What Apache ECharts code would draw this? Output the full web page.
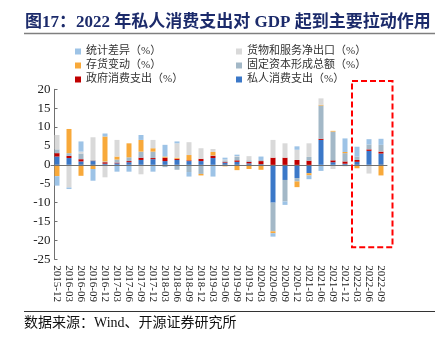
<!DOCTYPE html>
<html><head><meta charset="utf-8">
<script src="https://cdn.jsdelivr.net/npm/echarts@6/dist/echarts.min.js"></script>
<style>html,body{margin:0;padding:0;background:#fff}#c{width:447px;height:340px}</style>
</head><body><div id="c"></div>
<script>
const categories = ['2015-12','2016-03','2016-06','2016-09','2016-12','2017-03','2017-06','2017-09','2017-12','2018-03','2018-06','2018-09','2018-12','2019-03','2019-06','2019-09','2019-12','2020-03','2020-06','2020-09','2020-12','2021-03','2021-06','2021-09','2021-12','2022-03','2022-06','2022-09'];
const privateConsumption = [2.2,1.8,0.9,1.0,0.3,0.4,0.7,1.3,1.5,1.0,1.3,1.0,1.0,1.8,0.6,0.8,0.4,0.2,-10.0,-4.0,-3.5,-2.2,6.6,0.7,0.3,0.8,3.7,3.0];
const govConsumption = [0.9,0.6,0.6,0.1,0.4,0.2,0.3,0.6,0.3,0.9,0.3,0.2,0.6,0.6,0.2,0.4,0.4,0.8,1.9,1.9,1.3,1.1,0.3,0.5,0.6,0.5,0.4,0.5];
const fixedCapital = [1.0,0.7,1.5,0.2,0.2,0.8,1.0,1.6,1.7,-0.6,-1.3,-1.9,-2.4,0.1,0.4,0.9,0.4,0.3,-7.6,-5.7,-0.9,1.0,8.8,7.6,2.2,0.9,1.3,1.8];
const inventory = [-3.0,6.4,-2.9,-1.1,6.6,0.8,3.7,3.1,0.9,0.3,0.3,1.4,-0.4,0.9,-0.4,-1.4,-1.1,-1.3,-0.5,0,-1.5,-0.6,0.2,0.2,0.3,-0.9,0,-2.8];
const netExports = [3.8,-6.0,0.5,6.0,-3.3,4.4,-0.3,-2.5,2.2,0,3.8,3.4,2.8,0.8,0.2,0.2,1.1,0,4.7,3.8,2.7,3.6,1.7,-1.1,-0.4,0,-2.3,0];
const statDiscrepancy = [-2.5,-0.4,2.7,-3.1,0.8,-1.8,-1.5,1.3,-1.8,3.1,0.5,-1.2,0,-3.1,0.5,0.4,0,0.9,-0.9,-0.9,0.9,-1.0,-1.6,0,3.6,2.6,1.4,1.6];
const yTicks = [-25,-20,-15,-10,-5,0,5,10,15,20];

const names = {
  stat:'统计差异（%）', net:'货物和服务净出口（%）', inv:'存货变动（%）',
  fixed:'固定资本形成总额（%）', gov:'政府消费支出（%）', priv:'私人消费支出（%）'
};
const colors = {
  priv:'#3b78c8', gov:'#c00000', fixed:'#a3b8c7', inv:'#f8a93a', net:'#d9d9d9', stat:'#9dc3e6'
};
const serif = "'Liberation Serif','Noto Sans CJK SC',serif";

const chart = echarts.init(document.getElementById('c'), null, {renderer:'canvas'});
function bar(key, data){
  return {name:names[key], type:'bar', stack:'total', data:data, barWidth:5,
    itemStyle:{color:colors[key]}, emphasis:{disabled:true}};
}
const legendText = {fontFamily:serif, fontSize:11, color:'#333'};
chart.setOption({
  animation:false,
  title:{text:'图17：2022 年私人消费支出对 GDP 起到主要拉动作用', left:25, top:14, padding:0,
    textStyle:{fontFamily:serif, fontSize:17, fontWeight:'bold', color:'#1c2b6b'}},
  legend:[
    {orient:'vertical', left:75, top:46, padding:0, itemWidth:6, itemHeight:6, itemGap:3, icon:'rect',
     textStyle:legendText, data:[names.stat, names.inv, names.gov]},
    {orient:'vertical', left:236, top:46, padding:0, itemWidth:6, itemHeight:6, itemGap:3, icon:'rect',
     textStyle:legendText, data:[names.net, names.fixed, names.priv]}
  ],
  grid:{left:51, width:336, top:89.3, height:170},
  xAxis:[
    {type:'category', data:categories, boundaryGap:true,
     axisLine:{show:false, onZero:false}, axisTick:{show:false},
     axisLabel:{rotate:-90, margin:6, fontFamily:serif, fontSize:11, color:'#222', interval:0}},
    {type:'category', data:categories, boundaryGap:true, position:'bottom', z:5,
     axisLine:{show:true, onZero:true, lineStyle:{color:'#707070', width:1}},
     axisTick:{show:false}, axisLabel:{show:false}}
  ],
  yAxis:{type:'value', min:yTicks[0], max:yTicks[yTicks.length-1], interval:5, offset:-3.5,
    splitLine:{show:false},
    axisLine:{show:true, lineStyle:{color:'#707070'}},
    axisTick:{show:true, inside:true, length:3, lineStyle:{color:'#707070'}},
    axisLabel:{margin:4, fontFamily:serif, fontSize:13, color:'#222'}},
  series:[
    bar('priv', privateConsumption),
    bar('gov', govConsumption),
    bar('fixed', fixedCapital),
    bar('inv', inventory),
    bar('net', netExports),
    bar('stat', statDiscrepancy)
  ]
});

// annotation box around the 2022 quarters, derived from the axes
const xa = chart.convertToPixel({xAxisIndex:0}, categories[25]);
const xb = chart.convertToPixel({xAxisIndex:0}, categories[27]);
const ya = chart.convertToPixel({yAxisIndex:0}, 22.2);
const yb = chart.convertToPixel({yAxisIndex:0}, -21.8);
chart.setOption({
  graphic:[
    {type:'line', shape:{x1:24, y1:33.5, x2:435, y2:33.5}, style:{stroke:'#7f7f7f', lineWidth:1.5}, silent:true},
    {type:'line', shape:{x1:24, y1:311.5, x2:435, y2:311.5}, style:{stroke:'#333', lineWidth:1}, silent:true},
    {type:'text', left:24, top:316, style:{text:'数据来源：Wind、开源证券研究所', font:"14px 'Liberation Serif','Noto Sans CJK SC',serif", fill:'#111'}, silent:true},
    {type:'rect', shape:{x:xa-5, y:ya, width:(xb+11.5)-(xa-5), height:yb-ya},
     style:{fill:'none', stroke:'#ff0000', lineWidth:2, lineDash:[6,3]}, z:10, silent:true}
  ]
});
</script></body></html>
